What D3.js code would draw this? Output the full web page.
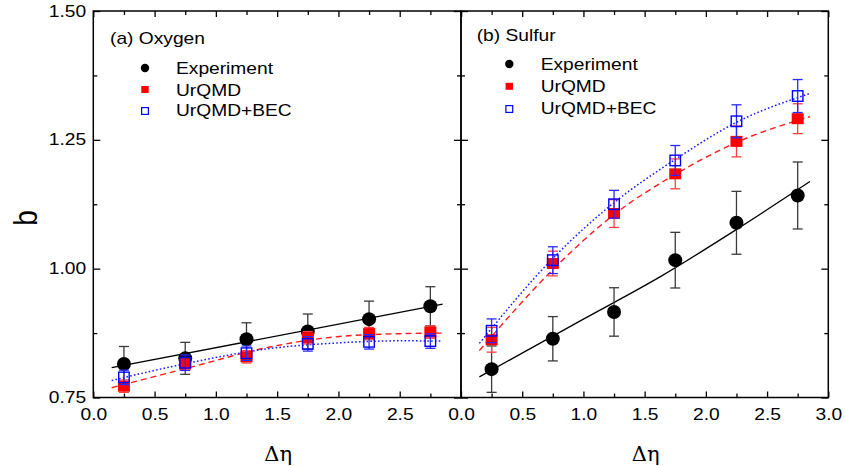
<!DOCTYPE html>
<html>
<head>
<meta charset="utf-8">
<script src="https://cdn.jsdelivr.net/npm/d3@7"></script>
<style>
  html, body { margin: 0; padding: 0; background: #fff; }
  svg { display: block; }
  text { font-family: "Liberation Sans", Arial, sans-serif; }
</style>
</head>
<body>
<svg id="chart" width="845" height="466"></svg>
<script>
// Δη bin centres shared by both panels
const eta = [0.25, 0.75, 1.25, 1.75, 2.25, 2.75];

// (a) Oxygen
const oxyExp      = [0.815, 0.826, 0.863, 0.878, 0.902, 0.927];
const oxyExpErr   = [0.034, 0.031, 0.032, 0.034, 0.035, 0.038];
const oxyUrqmd    = [0.772, 0.815, 0.829, 0.866, 0.874, 0.877];
const oxyUrqmdErr = [0.012, 0.012, 0.012, 0.012, 0.012, 0.012];
const oxyBec      = [0.789, 0.8175, 0.836, 0.854, 0.858, 0.8595];
const oxyBecErr   = [0.014, 0.015, 0.014, 0.014, 0.014, 0.014];

// (b) Sulfur
const sulExp      = [0.805, 0.864, 0.916, 1.0165, 1.089, 1.142];
const sulExpErr   = [0.045, 0.043, 0.047, 0.054, 0.061, 0.065];
const sulUrqmd    = [0.862, 1.010, 1.107, 1.184, 1.247, 1.291];
const sulUrqmdErr = [0.024, 0.024, 0.027, 0.029, 0.030, 0.029];
const sulBec      = [0.8795, 1.0165, 1.125, 1.210, 1.286, 1.335];
const sulBecErr   = [0.023, 0.026, 0.027, 0.029, 0.032, 0.032];

// fit curves, sampled along Δη
const oxyExpFitX   = [0.15, 2.85];
const oxyExpFitY   = [0.808, 0.931];
const oxyUrqmdFitX = [0.15, 0.79, 1.44, 1.99, 2.53, 2.85];
const oxyUrqmdFitY = [0.769, 0.8085, 0.848, 0.868, 0.874, 0.875];
const oxyBecFitX   = [0.15, 0.79, 1.44, 2.0, 2.5, 2.85];
const oxyBecFitY   = [0.783, 0.8175, 0.845, 0.856, 0.860, 0.8595];

const sulExpFitX   = [0.15, 0.40, 1.0, 1.625, 2.25, 2.85];
const sulExpFitY   = [0.790, 0.823, 0.902, 0.984, 1.076, 1.169];
const sulUrqmdFitX = [0.15, 0.75, 1.25, 1.75, 2.25, 2.85];
const sulUrqmdFitY = [0.841, 0.998, 1.105, 1.183, 1.245, 1.295];
const sulBecFitX   = [0.15, 0.75, 1.25, 1.75, 2.25, 2.85];
const sulBecFitY   = [0.855, 1.020, 1.128, 1.212, 1.284, 1.340];

// axis ticks
const xLabelTicksA = [0.0, 0.5, 1.0, 1.5, 2.0, 2.5];
const xLabelTicksB = [0.0, 0.5, 1.0, 1.5, 2.0, 2.5, 3.0];
const xMajorTicks  = [0.0, 0.5, 1.0, 1.5, 2.0, 2.5, 3.0];
const xMinorTicks  = [0.25, 0.75, 1.25, 1.75, 2.25, 2.75];
const yMajorTicks  = [0.75, 1.00, 1.25, 1.50];
const yMinorTicks  = [0.875, 1.125, 1.375];

const seriesNames = ["Experiment", "UrQMD", "UrQMD+BEC"];
const panelTitles = ["(a) Oxygen", "(b) Sulfur"];

// ---------------------------------------------------------------
const svg = d3.select("#chart");
const SX = 1.2;               // horizontal stretch of lettering
const FS = 16;

const plotTop = 11, plotBottom = 397.5;
const y = d3.scaleLinear().domain([0.75, 1.5]).range([plotBottom, plotTop]);
const xA = d3.scaleLinear().domain([0, 3]).range([93.3, 461]);
const xB = d3.scaleLinear().domain([0, 3]).range([461, 828.3]);

const colors = {
  exp: "#000", expErr: "#3a3a3a",
  red: "#ff0000", redErr: "#ff4040", redLine: "#ff1a1a",
  blue: "#0000ff", blueErr: "#2a2aff", blueLine: "#1a1aff"
};

function label(g, x, yy, str, anchor, size) {
  return g.append("text")
    .attr("transform", `translate(${x},${yy}) scale(${SX},1)`)
    .attr("text-anchor", anchor || "start")
    .attr("font-size", size || FS)
    .attr("fill", "#000")
    .text(str);
}

function styleAxis(sel) {
  sel.select(".domain").remove();
  sel.selectAll(".tick line").attr("stroke", "#000").attr("stroke-width", 1.3);
  sel.selectAll(".tick text")
    .attr("font-size", FS)
    .attr("fill", "#000")
    .attr("transform", `scale(${SX},1)`);
}

function drawAxes(x, labelTicks, showY) {
  const g = svg.append("g");
  const x0 = x.range()[0], x1 = x.range()[1];
  // bottom
  g.append("g").attr("transform", `translate(0,${plotBottom})`)
    .call(d3.axisBottom(x).tickValues(labelTicks).tickSize(-6).tickPadding(11)
      .tickFormat(d3.format(".1f")))
    .call(styleAxis);
  g.append("g").attr("transform", `translate(0,${plotBottom})`)
    .call(d3.axisBottom(x).tickValues(xMinorTicks).tickSize(-4).tickFormat(""))
    .call(styleAxis);
  // top
  g.append("g").attr("transform", `translate(0,${plotTop})`)
    .call(d3.axisTop(x).tickValues(xMajorTicks).tickSize(-6).tickFormat(""))
    .call(styleAxis);
  g.append("g").attr("transform", `translate(0,${plotTop})`)
    .call(d3.axisTop(x).tickValues(xMinorTicks).tickSize(-4).tickFormat(""))
    .call(styleAxis);
  // left
  g.append("g").attr("transform", `translate(${x0},0)`)
    .call(d3.axisLeft(y).tickValues(yMajorTicks).tickSize(-7).tickPadding(6)
      .tickFormat(showY ? d3.format(".2f") : ""))
    .call(styleAxis);
  g.append("g").attr("transform", `translate(${x0},0)`)
    .call(d3.axisLeft(y).tickValues(yMinorTicks).tickSize(-4).tickFormat(""))
    .call(styleAxis);
  // right
  g.append("g").attr("transform", `translate(${x1},0)`)
    .call(d3.axisRight(y).tickValues(yMajorTicks).tickSize(-7).tickFormat(""))
    .call(styleAxis);
  g.append("g").attr("transform", `translate(${x1},0)`)
    .call(d3.axisRight(y).tickValues(yMinorTicks).tickSize(-4).tickFormat(""))
    .call(styleAxis);
  // frame
  g.append("rect")
    .attr("x", x0).attr("y", plotTop)
    .attr("width", x1 - x0).attr("height", plotBottom - plotTop)
    .attr("fill", "none").attr("stroke", "#000").attr("stroke-width", 1.5);
}

function fitLine(g, x, xs, ys, color, dash, width) {
  const pts = xs.map((d, i) => [d, ys[i]]);
  g.append("path")
    .attr("d", d3.line().x(d => x(d[0])).y(d => y(d[1])).curve(d3.curveMonotoneX)(pts))
    .attr("fill", "none")
    .attr("stroke", color)
    .attr("stroke-width", width)
    .attr("stroke-dasharray", dash);
}

function errorBars(g, x, vals, errs, color) {
  const data = eta.map((d, i) => ({ d, v: vals[i], e: errs[i] }));
  const cap = 5;
  const eb = g.append("g").attr("stroke", color).attr("stroke-width", 1.3);
  eb.selectAll("line.v").data(data).join("line").attr("class", "v")
    .attr("x1", p => x(p.d)).attr("x2", p => x(p.d))
    .attr("y1", p => y(p.v - p.e)).attr("y2", p => y(p.v + p.e));
  eb.selectAll("line.t").data(data).join("line").attr("class", "t")
    .attr("x1", p => x(p.d) - cap).attr("x2", p => x(p.d) + cap)
    .attr("y1", p => y(p.v + p.e)).attr("y2", p => y(p.v + p.e));
  eb.selectAll("line.b").data(data).join("line").attr("class", "b")
    .attr("x1", p => x(p.d) - cap).attr("x2", p => x(p.d) + cap)
    .attr("y1", p => y(p.v - p.e)).attr("y2", p => y(p.v - p.e));
}

function circles(g, x, vals, r) {
  g.append("g").selectAll("circle").data(eta.map((d, i) => [d, vals[i]])).join("circle")
    .attr("cx", p => x(p[0])).attr("cy", p => y(p[1])).attr("r", r)
    .attr("fill", colors.exp);
}

function squares(g, x, vals, w, h, fill, stroke, sw) {
  g.append("g").selectAll("rect").data(eta.map((d, i) => [d, vals[i]])).join("rect")
    .attr("x", p => x(p[0]) - w / 2).attr("y", p => y(p[1]) - h / 2)
    .attr("width", w).attr("height", h)
    .attr("fill", fill).attr("stroke", stroke).attr("stroke-width", sw);
}

function legend(g, title, tx, ty, sx, tx2, rows) {
  label(g, tx, ty, title);
  g.append("circle").attr("cx", sx).attr("cy", rows[0] - 6).attr("r", 4.2).attr("fill", colors.exp);
  g.append("rect").attr("x", sx - 3.7).attr("y", rows[1] - 6 - 3.5).attr("width", 7.4).attr("height", 7)
    .attr("fill", colors.red);
  g.append("rect").attr("x", sx - 3.4).attr("y", rows[2] - 5 - 3.4).attr("width", 6.8).attr("height", 6.8)
    .attr("fill", "none").attr("stroke", colors.blue).attr("stroke-width", 1.2);
  seriesNames.forEach((s, i) => label(g, tx2, rows[i], s));
}

function panel(x, p) {
  const g = svg.append("g");
  fitLine(g, x, p.expFitX, p.expFitY, colors.exp, null, 1.3);
  fitLine(g, x, p.redFitX, p.redFitY, colors.redLine, "6,4", 1.4);
  fitLine(g, x, p.blueFitX, p.blueFitY, colors.blueLine, "1.6,2.2", 1.5);

  errorBars(g, x, p.exp, p.expErr, colors.expErr);
  circles(g, x, p.exp, 7);
  errorBars(g, x, p.red, p.redErr, colors.redErr);
  squares(g, x, p.red, 12, 11, colors.red, "none", 0);
  errorBars(g, x, p.blue, p.blueErr, colors.blueErr);
  squares(g, x, p.blue, 10.5, 10.5, "none", colors.blue, 1.4);
}

panel(xA, {
  exp: oxyExp, expErr: oxyExpErr, red: oxyUrqmd, redErr: oxyUrqmdErr, blue: oxyBec, blueErr: oxyBecErr,
  expFitX: oxyExpFitX, expFitY: oxyExpFitY, redFitX: oxyUrqmdFitX, redFitY: oxyUrqmdFitY,
  blueFitX: oxyBecFitX, blueFitY: oxyBecFitY
});
panel(xB, {
  exp: sulExp, expErr: sulExpErr, red: sulUrqmd, redErr: sulUrqmdErr, blue: sulBec, blueErr: sulBecErr,
  expFitX: sulExpFitX, expFitY: sulExpFitY, redFitX: sulUrqmdFitX, redFitY: sulUrqmdFitY,
  blueFitX: sulBecFitX, blueFitY: sulBecFitY
});

drawAxes(xA, xLabelTicksA, true);
drawAxes(xB, xLabelTicksB, false);

const lg = svg.append("g");
legend(lg, panelTitles[0], 110, 43.5, 145, 176, [74, 95.5, 116]);
legend(lg, panelTitles[1], 476.7, 41, 509.3, 540.7, [70, 92.3, 114]);

// axis titles
svg.append("text")
  .attr("transform", `translate(37,218) rotate(-90) scale(1,${SX})`)
  .attr("text-anchor", "middle")
  .attr("font-size", 28)
  .text("b");

[xA, xB].forEach(x => {
  svg.append("text")
    .style("font-family", "'DejaVu Serif', 'Liberation Serif', serif")
    .attr("x", (x.range()[0] + x.range()[1]) / 2 + 1)
    .attr("y", 461)
    .attr("text-anchor", "middle")
    .attr("font-size", 21)
    .text("Δη");
});
</script>
</body>
</html>
